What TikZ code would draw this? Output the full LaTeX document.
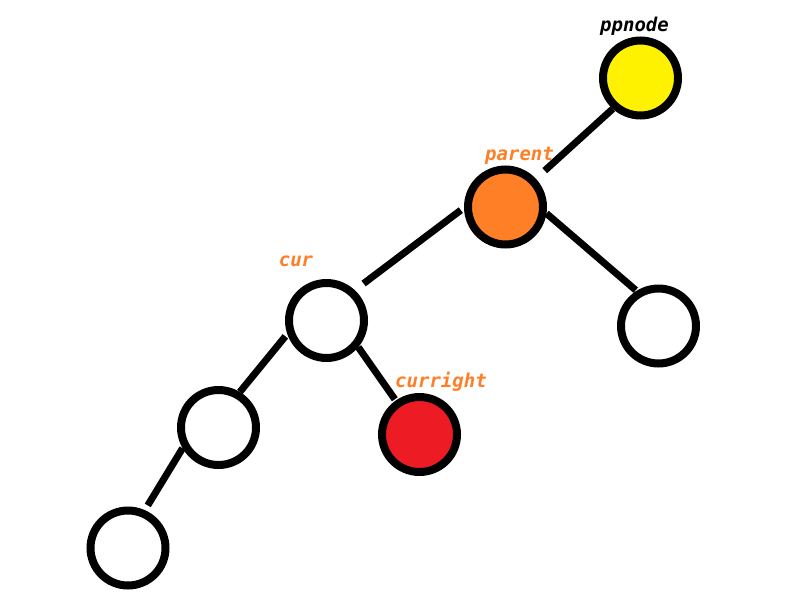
\documentclass[tikz,border=0pt]{standalone}
\usepackage{fontspec}
\setmonofont{DejaVu Sans Mono}
\usetikzlibrary{positioning}
\definecolor{nodeyellow}{RGB}{255,242,0}
\definecolor{nodeorange}{RGB}{255,127,39}
\definecolor{nodered}{RGB}{237,28,36}
\tikzset{
on grid, % places nodes centre to centre
tnode/.style={circle, draw=black, line width=8pt, minimum size=75pt, inner sep=0pt, fill=white}, % every tree node
every edge/.style={draw=black, line width=7pt}, % the branches
tlabel/.style={anchor=base, text=nodeorange, font=\ttfamily\bfseries\itshape\fontsize{19}{19}\selectfont}, % names over the nodes
}
\begin{document}
\begin{tikzpicture}[x=1pt, y=-1pt]
    \useasboundingbox (0,0) rectangle (788,603);
    \node[tnode, fill=nodeyellow] (ppnode) at (640.5,78) {};
    \node[tnode, fill=nodeorange, below left=129pt and 135pt of ppnode] (parent) {};
    \node[tnode, below left=113.5pt and 179pt of parent] (cur) {};
    \node[tnode, below right=119pt and 153pt of parent] (pright) {};
    \node[tnode, below left=107pt and 108pt of cur] (cleft) {};
    \node[tnode, fill=nodered, below right=114pt and 93pt of cur] (curright) {};
    \node[tnode, below left=120.5pt and 90.5pt of cleft] (cleftleft) {};
    \node[tlabel, text=black] (ppnodetxt) at ([shift={(-6,-47)}]ppnode.center) {ppnode};
    \node[tlabel] (parenttxt) at ([shift={(14,-47)}]parent.center) {parent};
    \node[tlabel] (curtxt) at ([shift={(-30.5,-54.5)}]cur.center) {cur};
    \node[tlabel] (currighttxt) at ([shift={(21.5,-47.5)}]curright.center) {curright};
    \draw
    (ppnode.228) edge[shorten >=12pt] (parent.43)
    (parent.181) edge[shorten <=4pt, shorten >=11pt] (cur.47)
    (parent.351) edge[shorten >=1pt] (pright.122)
    (cur.199) edge[shorten <=3pt] (cleft.59)
    (cur.320) edge[shorten >=1.5pt] (curright.125)
    (cleft.210) edge[shorten >=5.5pt] (cleftleft.66);
\end{tikzpicture}
\end{document}
